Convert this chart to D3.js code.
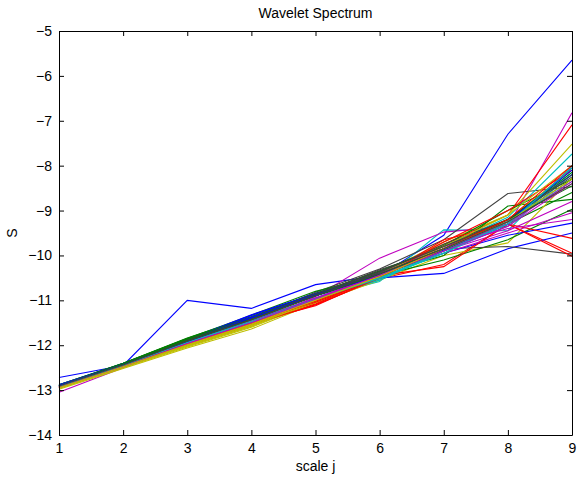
<!DOCTYPE html>
<html lang="en">
<head>
<meta charset="UTF-8">
<title>Wavelet Spectrum</title>
<script src="https://cdn.jsdelivr.net/npm/d3@7"></script>
<style>
    body { margin: 0; background: #fff; }
    text { font-family: "Liberation Sans", Arial, sans-serif; }
</style>
</head>
<body>
<script>
    var width = 577;
    var height = 477;
    var margin = {left: 59, right: 5, top: 31, bottom: 42};

    // scale j
    var scales = [1, 2, 3, 4, 5, 6, 7, 8, 9];
    var xTicks = [1, 2, 3, 4, 5, 6, 7, 8, 9];
    var yTicks = [-14, -13, -12, -11, -10, -9, -8, -7, -6, -5];

    // MATLAB line color order b g r c m y k
    var colorOrder = ['#0000ff', '#008000', '#ff0000', '#00bfbf', '#bf00bf', '#bfbf00', '#404040'];

    // one row per curve, S at scale j = 1..9
    var spectra = [
        [-12.72, -12.45, -11.00, -11.18, -10.65, -10.45, -9.55, -7.30, -5.65],
        [-12.88, -12.40, -11.84, -11.36, -10.84, -10.36, -9.85, -9.30, -8.60],
        [-12.95, -12.48, -12.00, -11.55, -11.10, -10.52, -10.20, -9.30, -9.95],
        [-12.90, -12.45, -11.94, -11.45, -10.95, -10.58, -9.43, -9.45, -8.00],
        [-13.05, -12.50, -11.98, -11.52, -10.92, -10.06, -9.48, -9.35, -6.82],
        [-12.98, -12.52, -12.06, -11.64, -11.06, -10.55, -10.00, -9.72, -8.27],
        [-12.90, -12.42, -11.88, -11.40, -10.82, -10.30, -9.65, -8.62, -8.47],
        [-12.92, -12.45, -11.95, -11.42, -10.90, -10.50, -10.40, -9.85, -9.50],
        [-12.90, -12.40, -11.85, -11.33, -10.80, -10.45, -10.10, -9.65, -8.97],
        [-12.93, -12.46, -11.97, -11.50, -11.12, -10.48, -9.75, -9.10, -7.09],
        [-12.88, -12.44, -11.95, -11.46, -10.95, -10.40, -9.80, -9.15, -7.74],
        [-12.95, -12.48, -11.96, -11.52, -11.00, -10.40, -9.90, -9.45, -8.80],
        [-12.95, -12.48, -12.02, -11.58, -11.03, -10.40, -9.70, -9.10, -7.52],
        [-12.90, -12.43, -11.92, -11.42, -10.88, -10.32, -9.85, -9.80, -9.97],
        [-12.90, -12.41, -11.88, -11.32, -10.86, -10.42, -9.95, -9.55, -9.28],
        [-12.88, -12.41, -11.86, -11.40, -10.88, -10.40, -10.00, -8.90, -8.75],
        [-12.92, -12.46, -11.98, -11.52, -11.08, -10.45, -10.25, -9.30, -9.62],
        [-12.90, -12.44, -11.93, -11.45, -10.96, -10.55, -9.90, -9.35, -8.20],
        [-12.93, -12.47, -11.95, -11.48, -10.97, -10.42, -9.95, -9.50, -9.05],
        [-12.96, -12.50, -12.04, -11.60, -11.04, -10.48, -9.85, -9.20, -8.10],
        [-12.90, -12.42, -11.88, -11.38, -10.86, -10.34, -9.80, -9.25, -8.30],
        [-12.88, -12.42, -11.90, -11.34, -10.85, -10.40, -9.85, -9.20, -8.20],
        [-12.90, -12.41, -11.85, -11.38, -10.86, -10.35, -9.78, -9.00, -8.30],
        [-12.92, -12.47, -11.97, -11.53, -11.10, -10.50, -9.65, -9.30, -10.02],
        [-12.90, -12.45, -11.95, -11.47, -10.98, -10.52, -9.95, -9.30, -8.15],
        [-12.94, -12.47, -11.96, -11.50, -10.96, -10.40, -9.80, -9.40, -9.20],
        [-12.94, -12.47, -11.99, -11.55, -11.00, -10.42, -9.75, -9.25, -8.05],
        [-12.92, -12.44, -11.92, -11.45, -10.90, -10.38, -9.75, -9.20, -8.20],
        [-12.90, -12.43, -11.90, -11.38, -10.90, -10.42, -9.88, -9.30, -8.05],
        [-12.90, -12.42, -11.88, -11.42, -10.90, -10.45, -9.90, -9.20, -8.15],
        [-12.92, -12.46, -11.96, -11.50, -11.04, -10.50, -9.70, -9.00, -8.10],
        [-12.91, -12.45, -11.93, -11.46, -10.97, -10.50, -9.95, -9.25, -8.35],
        [-12.93, -12.47, -11.95, -11.47, -10.95, -10.44, -9.85, -9.30, -8.35],
        [-12.96, -12.49, -12.01, -11.57, -11.02, -10.46, -9.80, -9.10, -8.00],
        [-12.90, -12.43, -11.89, -11.40, -10.86, -10.36, -9.80, -9.20, -8.25],
        [-12.90, -12.43, -11.92, -11.40, -10.88, -10.45, -9.85, -9.25, -8.10],
        [-12.92, -12.43, -11.90, -11.42, -10.90, -10.42, -9.85, -9.20, -8.45],
        [-12.93, -12.46, -11.97, -11.50, -11.02, -10.48, -9.85, -9.20, -8.00],
        [-12.92, -12.45, -11.94, -11.48, -10.98, -10.50, -9.90, -9.30, -8.05],
        [-12.94, -12.48, -11.97, -11.50, -10.98, -10.44, -9.90, -9.35, -8.40],
        [-12.95, -12.48, -11.99, -11.53, -11.00, -10.47, -9.85, -9.25, -8.30],
        [-12.91, -12.44, -11.91, -11.43, -10.90, -10.40, -9.85, -9.25, -8.40]
    ];

    var svg = d3.select('body').append('svg')
            .attr('width', width)
            .attr('height', height);

    svg.append('rect')
            .attr('width', width)
            .attr('height', height)
            .attr('fill', '#fff');

    var x = d3.scaleLinear()
            .domain([1, 9])
            .range([margin.left, width - margin.right]);
    var y = d3.scaleLinear()
            .domain([-14, -5])
            .range([height - margin.bottom, margin.top]);

    var line = d3.line()
            .x(function (d, i) { return x(scales[i]); })
            .y(function (d) { return y(d); });

    svg.append('g')
            .selectAll('path')
            .data(spectra)
            .enter()
            .append('path')
            .attr('d', line)
            .attr('fill', 'none')
            .attr('stroke-width', 1.1)
            .attr('stroke', function (d, i) {
                return colorOrder[i % colorOrder.length];
            });

    // box with inward ticks on all four sides
    function styleAxis(g, labels) {
        g.select('.domain').attr('stroke', '#000').attr('stroke-width', 1);
        g.selectAll('.tick line').attr('stroke', '#000');
        g.selectAll('.tick text')
                .attr('fill', '#000')
                .style('font-size', '14px')
                .style('display', labels ? null : 'none');
    }

    svg.append('g')
            .attr('transform', 'translate(0,' + (height - margin.bottom) + ')')
            .call(d3.axisBottom(x).tickValues(xTicks).tickFormat(d3.format('d'))
                    .tickSizeInner(-5).tickSizeOuter(0).tickPadding(8))
            .call(styleAxis, true);
    svg.append('g')
            .attr('transform', 'translate(0,' + margin.top + ')')
            .call(d3.axisTop(x).tickValues(xTicks).tickSizeInner(-5).tickSizeOuter(0))
            .call(styleAxis, false);
    svg.append('g')
            .attr('transform', 'translate(' + margin.left + ',0)')
            .call(d3.axisLeft(y).tickValues(yTicks).tickFormat(d3.format('d'))
                    .tickSizeInner(-5).tickSizeOuter(0).tickPadding(7))
            .call(styleAxis, true);
    svg.append('g')
            .attr('transform', 'translate(' + (width - margin.right) + ',0)')
            .call(d3.axisRight(y).tickValues(yTicks).tickSizeInner(-5).tickSizeOuter(0))
            .call(styleAxis, false);

    svg.append('text')
            .attr('x', (margin.left + width - margin.right) / 2)
            .attr('y', 18)
            .attr('text-anchor', 'middle')
            .style('font-size', '14px')
            .text('Wavelet Spectrum');

    svg.append('text')
            .attr('x', (margin.left + width - margin.right) / 2)
            .attr('y', 471)
            .attr('text-anchor', 'middle')
            .style('font-size', '14px')
            .text('scale j');

    svg.append('text')
            .attr('transform', 'translate(17,' + ((margin.top + height - margin.bottom) / 2) + ') rotate(-90)')
            .attr('text-anchor', 'middle')
            .style('font-size', '14px')
            .text('S');
</script>
</body>
</html>
